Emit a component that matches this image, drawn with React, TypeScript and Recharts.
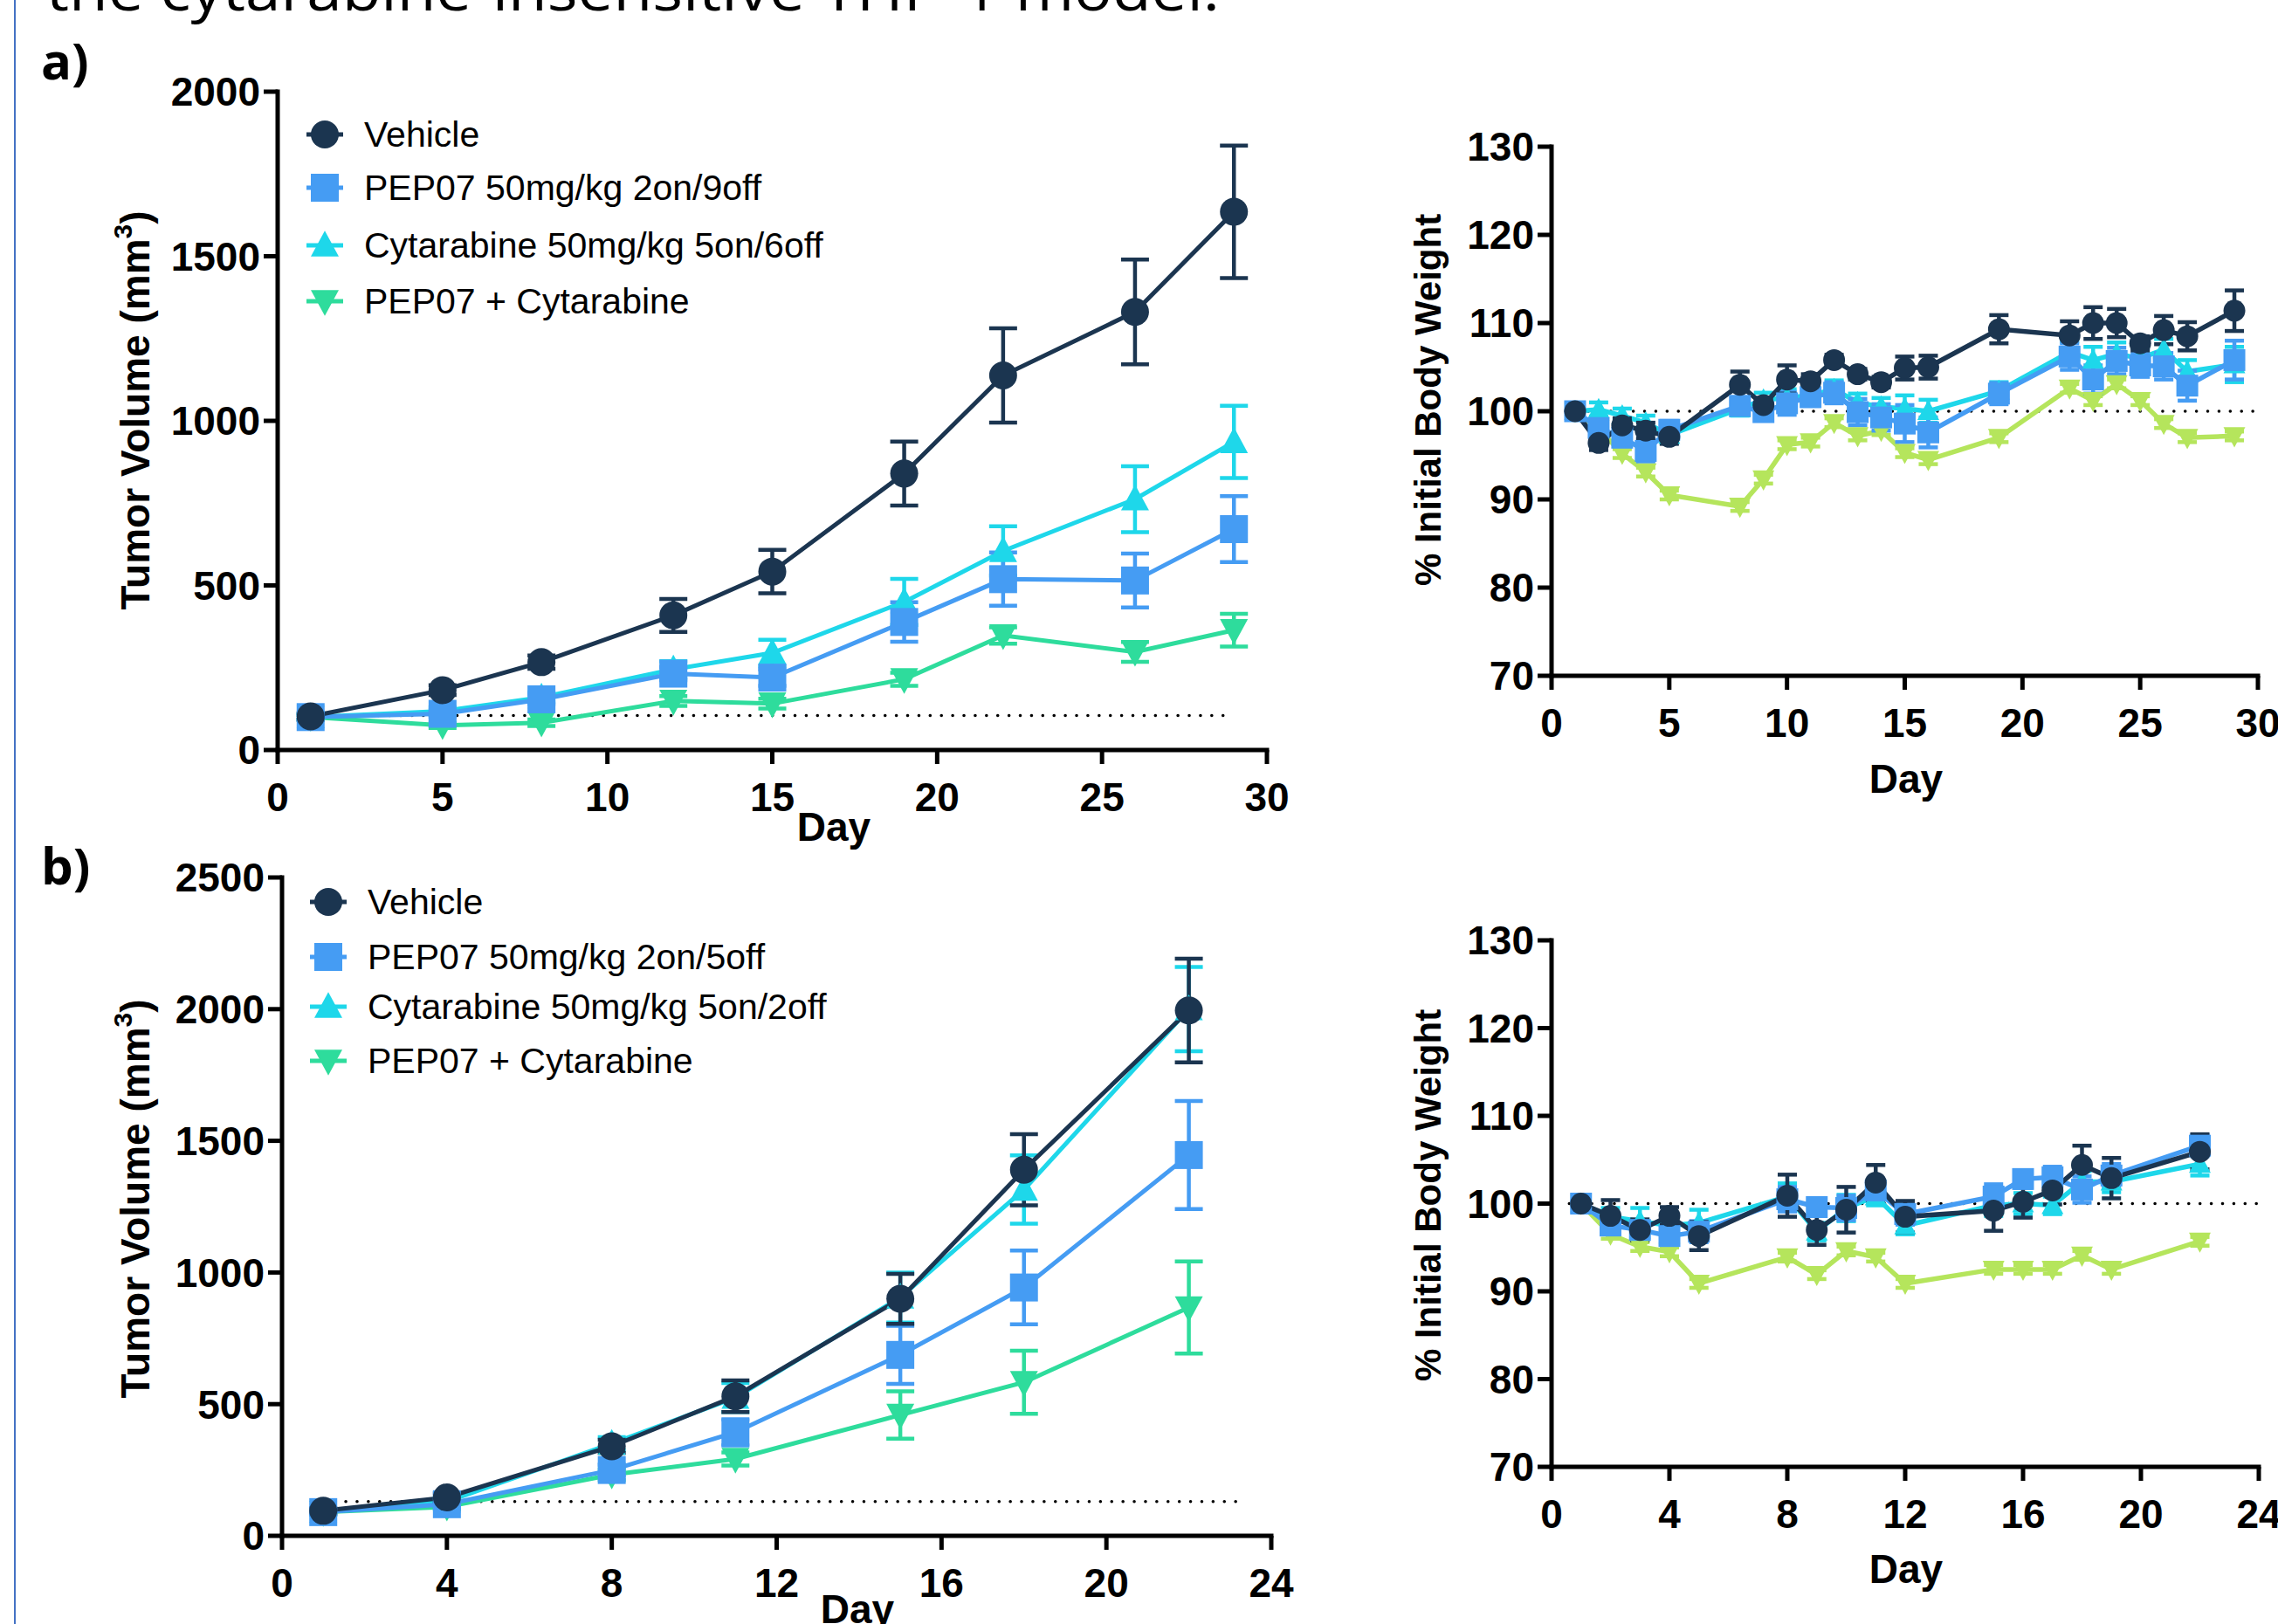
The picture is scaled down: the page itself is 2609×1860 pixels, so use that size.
import React from "react";
import { LineChart, Line, XAxis, YAxis, ErrorBar, ReferenceLine } from "recharts";

// ---- panel a, tumour volume ----
const daysA = [1, 5, 8, 12, 15, 19, 22, 26, 29];
const vehA = [102, 182, 267, 409, 542, 840, 1138, 1331, 1635];
const vehAErr = [10, 15, 20, 50, 66, 97, 143, 159, 201];
const pepA = [100, 110, 154, 232, 220, 389, 519, 515, 671];
const pepAErr = [8, 10, 15, 20, 25, 60, 81, 82, 100];
const cytA = [100, 118, 160, 245, 295, 450, 605, 762, 936];
const cytAErr = [8, 12, 15, 25, 40, 70, 75, 100, 110];
const comboA = [100, 75, 83, 149, 141, 215, 348, 298, 364];
const comboAErr = [8, 8, 10, 15, 15, 20, 25, 30, 50];

// ---- panel a, body weight ----
const daysBwA = [1, 2, 3, 4, 5, 8, 9, 10, 11, 12, 13, 14, 15, 16, 19, 22, 23, 24, 25, 26, 27, 29];
const vehBwA = [100, 96.4, 98.4, 97.8, 97.1, 103.0, 100.7, 103.6, 103.4, 105.8, 104.2, 103.3, 104.9, 105.0, 109.3, 108.6, 110.0, 110.0, 107.7, 109.2, 108.5, 111.4];
const vehBwAErr = [0.5, 0.8, 0.8, 0.9, 0.8, 1.5, 0.8, 1.6, 0.8, 0.6, 0.6, 0.6, 1.3, 1.3, 1.6, 1.6, 1.8, 1.6, 0.8, 1.6, 1.6, 2.3];
const pepBwA = [100, 98.1, 97.0, 95.5, 97.9, 100.6, 99.9, 100.9, 101.6, 102.1, 99.9, 99.3, 98.6, 97.6, 102.0, 106.2, 103.6, 105.7, 105.2, 105.1, 102.9, 105.8];
const pepBwAErr = [0.8, 1, 1, 1.2, 1, 1, 0.8, 1.3, 1, 1.2, 1.5, 1.5, 2.1, 1.7, 1.2, 1.5, 1.6, 1.5, 1.3, 1.5, 1.7, 2.2];
const cytBwA = [100, 100.2, 99.5, 98.7, 97.3, 100.3, 101.3, 101.5, 101.8, 102.5, 101.0, 100.5, 100.3, 100.0, 102.3, 106.7, 105.8, 106.5, 106.0, 107.0, 104.5, 105.3];
const cytBwAErr = [0.6, 0.8, 0.8, 0.8, 0.8, 0.8, 0.8, 1, 1, 1, 1, 1, 1.5, 1.3, 1, 1.2, 1.5, 1.3, 1.2, 1.2, 1.3, 2];
const comboBwA = [100, 98.0, 95.2, 93.1, 90.5, 89.2, 92.3, 96.2, 96.5, 98.7, 97.2, 97.8, 95.3, 94.5, 97.0, 102.6, 101.2, 103.1, 101.2, 98.6, 97.0, 97.2];
const comboBwAErr = [0.5, 0.5, 0.5, 0.5, 0.5, 0.5, 0.5, 0.5, 0.5, 0.5, 0.5, 0.5, 0.5, 0.5, 0.5, 0.5, 0.5, 0.5, 0.5, 0.5, 0.5, 0.5];

// ---- panel b, tumour volume ----
const daysB = [1, 4, 8, 11, 15, 18, 22];
const vehB = [95, 146, 340, 530, 900, 1390, 1995];
const vehBErr = [10, 15, 25, 60, 95, 135, 197];
const pepB = [90, 120, 250, 393, 687, 943, 1446];
const pepBErr = [10, 12, 20, 50, 110, 140, 205];
const cytB = [92, 130, 350, 525, 905, 1315, 2000];
const cytBErr = [10, 15, 25, 55, 95, 130, 160];
const comboB = [90, 110, 232, 292, 459, 583, 867];
const comboBErr = [8, 10, 20, 25, 90, 120, 175];

// ---- panel b, body weight ----
const daysBwB = [1, 2, 3, 4, 5, 8, 9, 10, 11, 12, 15, 16, 17, 18, 19, 22];
const vehBwB = [100, 98.6, 97.0, 98.6, 96.3, 100.9, 97.0, 99.3, 102.4, 98.5, 99.2, 100.2, 101.5, 104.4, 102.9, 105.9];
const vehBwBErr = [0.5, 1.8, 1.2, 1.0, 1.6, 2.4, 1.7, 2.6, 2.0, 1.8, 2.3, 1.8, 1.6, 2.2, 2.3, 2.0];
const pepBwB = [100, 97.5, 97.0, 96.3, 96.8, 100.5, 99.6, 99.5, 101.5, 98.8, 100.8, 102.8, 103.0, 101.6, 103.2, 106.6];
const pepBwBErr = [0.6, 1.0, 1.0, 1.0, 1.2, 1.4, 1.0, 1.4, 1.2, 1.2, 1.4, 1.0, 1.2, 1.5, 1.3, 1.2];
const cytBwB = [100, 98.5, 98.0, 97.5, 97.8, 100.8, 96.8, 99.5, 100.8, 97.5, 99.8, 100.0, 99.8, 102.5, 102.5, 104.5];
const cytBwBErr = [0.5, 1.0, 1.5, 1.2, 1.5, 1.5, 1.0, 1.5, 1.0, 1.0, 1.2, 1.2, 1.0, 1.2, 1.2, 1.3];
const comboBwB = [100, 96.5, 95.1, 94.5, 90.9, 93.9, 91.9, 94.6, 93.9, 90.9, 92.5, 92.5, 92.5, 94.1, 92.5, 95.7];
const comboBwBErr = [0.5, 0.5, 0.5, 0.5, 0.5, 0.5, 0.5, 0.5, 0.5, 0.5, 0.5, 0.5, 0.5, 0.5, 0.5, 0.5];

// ---- ticks and labels ----
const tumorTicksA = [0, 500, 1000, 1500, 2000];
const tumorTicksB = [0, 500, 1000, 1500, 2000, 2500];
const bwTicks = [70, 80, 90, 100, 110, 120, 130];
const dayTicks30 = [0, 5, 10, 15, 20, 25, 30];
const dayTicks24 = [0, 4, 8, 12, 16, 20, 24];
const legendA = ["Vehicle", "PEP07 50mg/kg 2on/9off", "Cytarabine 50mg/kg 5on/6off", "PEP07 + Cytarabine"];
const legendB = ["Vehicle", "PEP07 50mg/kg 2on/5off", "Cytarabine 50mg/kg 5on/2off", "PEP07 + Cytarabine"];

const NAVY = "#1b3550";
const BLUE = "#459cf3";
const CYAN = "#1ed7ea";
const TEAL = "#2edc9c";
const LIME = "#b5e55c";
const FONT = "'Liberation Sans', Arial, sans-serif";

type Shape = "circle" | "square" | "up" | "down";

interface Series {
  key: string;
  shape: Shape;
  color: string;
  values: number[];
  errors: number[];
}

function symbol(shape: Shape, cx: number, cy: number, size: number, color: string, key?: string) {
  const h = size / 2;
  if (shape === "circle") return <circle key={key} cx={cx} cy={cy} r={h} fill={color} />;
  if (shape === "square")
    return <rect key={key} x={cx - h} y={cy - h} width={size} height={size} fill={color} />;
  if (shape === "up")
    return (
      <polygon key={key} fill={color}
        points={`${cx},${cy - h * 1.05} ${cx + h},${cy + h * 0.8} ${cx - h},${cy + h * 0.8}`} />
    );
  return (
    <polygon key={key} fill={color}
      points={`${cx},${cy + h * 1.05} ${cx + h},${cy - h * 0.8} ${cx - h},${cy - h * 0.8}`} />
  );
}

const dotFor = (shape: Shape, color: string, size: number) => (p: any) =>
  p.cx == null || p.cy == null ? <g key={`dot-${p.index}`} /> : symbol(shape, p.cx, p.cy, size, color, `dot-${p.index}`);

function makeSeries(
  veh: number[], vehErr: number[], pep: number[], pepErr: number[],
  cyt: number[], cytErr: number[], combo: number[], comboErr: number[], comboColor: string
): Series[] {
  return [
    { key: "veh", shape: "circle", color: NAVY, values: veh, errors: vehErr },
    { key: "pep", shape: "square", color: BLUE, values: pep, errors: pepErr },
    { key: "cyt", shape: "up", color: CYAN, values: cyt, errors: cytErr },
    { key: "combo", shape: "down", color: comboColor, values: combo, errors: comboErr },
  ];
}

interface PanelProps {
  box: { left: number; top: number; width: number; height: number };
  plot: { left: number; top: number; right: number; bottom: number };
  days: number[];
  series: Series[];
  xMax: number;
  xTicks: number[];
  yTicks: number[];
  baseline: { y: number; from: number; to: number };
  dotSize: number;
  lineWidth: number;
  cap: number;
  yTitle: React.ReactNode;
  yTitleSize: number;
  yTitleAt: [number, number];
  dayAt: [number, number];
}

const Y_AXIS_W = 200;
const X_AXIS_H = 80;
const axisStyle = { stroke: "#000", strokeWidth: 5, strokeLinecap: "square" as const };
const tickStyle = { fill: "#000", fontSize: 46, fontWeight: 700, fontFamily: FONT };

function Panel(props: PanelProps) {
  const { box, plot, days, series } = props;
  const data = days.map((d, i) => {
    const row: Record<string, number> = { day: d };
    series.forEach((s) => {
      row[s.key] = s.values[i];
      row[s.key + "Err"] = s.errors[i];
    });
    return row;
  });
  const margin = {
    top: plot.top - box.top,
    left: plot.left - box.left - Y_AXIS_W,
    right: box.left + box.width - plot.right,
    bottom: box.height - (plot.bottom - box.top) - X_AXIS_H,
  };
  const [tx, ty] = [props.yTitleAt[0] - box.left, props.yTitleAt[1] - box.top];
  const [dx, dy] = [props.dayAt[0] - box.left, props.dayAt[1] - box.top];
  const yDomain = [props.yTicks[0], props.yTicks[props.yTicks.length - 1]];

  return (
    <div style={{ position: "absolute", left: box.left, top: box.top }}>
      <LineChart width={box.width} height={box.height} data={data} margin={margin}>
        <XAxis
          dataKey="day" type="number" domain={[0, props.xMax]} ticks={props.xTicks} interval={0}
          axisLine={axisStyle} tickLine={{ stroke: "#000", strokeWidth: 5 }} tickSize={16} tickMargin={21}
          tick={tickStyle} height={X_AXIS_H}
          label={{
            content: () => (
              <text x={dx} y={dy} textAnchor="middle" fontSize={46} fontWeight={700} fontFamily={FONT} fill="#000">
                Day
              </text>
            ),
          }}
        />
        <YAxis
          type="number" domain={yDomain} ticks={props.yTicks} interval={0}
          axisLine={axisStyle} tickLine={{ stroke: "#000", strokeWidth: 5 }} tickSize={16} tickMargin={4}
          tick={tickStyle} width={Y_AXIS_W}
          label={{
            content: () => (
              <text x={tx} y={ty} transform={`rotate(-90, ${tx}, ${ty})`} textAnchor="middle"
                dominantBaseline="central" fontSize={props.yTitleSize} fontWeight={700} fontFamily={FONT} fill="#000">
                {props.yTitle}
              </text>
            ),
          }}
        />
        <ReferenceLine
          segment={[{ x: props.baseline.from, y: props.baseline.y }, { x: props.baseline.to, y: props.baseline.y }]}
          stroke="#000" strokeWidth={3.5} strokeDasharray="0.1 12.8" strokeLinecap="round"
        />
        {[...series].reverse().map((s) => (
          <Line
            key={s.key} dataKey={s.key} stroke={s.color} strokeWidth={props.lineWidth}
            dot={dotFor(s.shape, s.color, props.dotSize)} activeDot={false} isAnimationActive={false}
          >
            <ErrorBar dataKey={s.key + "Err"} width={props.cap} stroke={s.color} strokeWidth={4.5}
              direction="y" isAnimationActive={false} />
          </Line>
        ))}
      </LineChart>
    </div>
  );
}

function Legend({ labels, colors, x, textX, ys }: { labels: string[]; colors: string[]; x: number; textX: number; ys: number[] }) {
  const shapes: Shape[] = ["circle", "square", "up", "down"];
  return (
    <>
      {labels.map((label, i) => (
        <div key={label} style={{ position: "absolute", left: x - 24, top: ys[i] - 24, height: 48, display: "flex", alignItems: "center" }}>
          <svg width={48} height={48}>
            <line x1={3} x2={45} y1={24} y2={24} stroke={colors[i]} strokeWidth={5} />
            {symbol(shapes[i], 24, 24, 32, colors[i])}
          </svg>
          <span style={{ marginLeft: textX - x - 24, fontSize: 41, fontFamily: FONT, color: "#000", whiteSpace: "nowrap" }}>
            {label}
          </span>
        </div>
      ))}
    </>
  );
}

const tumorTitle = (
  <>
    Tumor Volume (mm<tspan dy={-15} fontSize={30}>3</tspan>
    <tspan dy={15}>)</tspan>
  </>
);

export default function App() {
  const seriesTumorA = makeSeries(vehA, vehAErr, pepA, pepAErr, cytA, cytAErr, comboA, comboAErr, TEAL);
  const seriesBwA = makeSeries(vehBwA, vehBwAErr, pepBwA, pepBwAErr, cytBwA, cytBwAErr, comboBwA, comboBwAErr, LIME);
  const seriesTumorB = makeSeries(vehB, vehBErr, pepB, pepBErr, cytB, cytBErr, comboB, comboBErr, TEAL);
  const seriesBwB = makeSeries(vehBwB, vehBwBErr, pepBwB, pepBwBErr, cytBwB, cytBwBErr, comboBwB, comboBwBErr, LIME);
  const legendColors = [NAVY, BLUE, CYAN, TEAL];

  return (
    <div style={{ position: "absolute", left: 0, top: 0, width: 2609, height: 1860, background: "#fff", overflow: "hidden" }}>
      <div style={{ position: "absolute", left: 16, top: 0, width: 2, height: 1860, background: "#4472c4" }} />
      <svg width={2609} height={1860} style={{ position: "absolute", left: 0, top: 0 }}>
        <text x={53} y={12} fontSize={66} fontFamily="'Open Sans', sans-serif" textLength={1344} lengthAdjust="spacingAndGlyphs" fill="#000">
          the cytarabine-insensitive THP-1 model.
        </text>
        <text x={47} y={91} fontSize={58} fontWeight={700} fontFamily="'Open Sans', sans-serif" fill="#000">a)</text>
        <text x={47} y={1013} fontSize={58} fontWeight={700} fontFamily="'Open Sans', sans-serif" fill="#000">b)</text>
      </svg>

      <Panel
        box={{ left: 0, top: 0, width: 1500, height: 1000 }}
        plot={{ left: 318, top: 105, right: 1451, bottom: 859 }}
        days={daysA} series={seriesTumorA} xMax={30} xTicks={dayTicks30} yTicks={tumorTicksA}
        baseline={{ y: 105, from: 1, to: 29 }} dotSize={32} lineWidth={5} cap={16}
        yTitle={tumorTitle} yTitleSize={46} yTitleAt={[155, 470]} dayAt={[955, 963]}
      />
      <Panel
        box={{ left: 1500, top: 0, width: 1109, height: 1000 }}
        plot={{ left: 1777, top: 168, right: 2586, bottom: 774 }}
        days={daysBwA} series={seriesBwA} xMax={30} xTicks={dayTicks30} yTicks={bwTicks}
        baseline={{ y: 100, from: 0.6, to: 30 }} dotSize={25} lineWidth={5.5} cap={11}
        yTitle="% Initial Body Weight" yTitleSize={42} yTitleAt={[1635, 458]} dayAt={[2183, 908]}
      />
      <Panel
        box={{ left: 0, top: 960, width: 1500, height: 900 }}
        plot={{ left: 323, top: 1005, right: 1456, bottom: 1759 }}
        days={daysB} series={seriesTumorB} xMax={24} xTicks={dayTicks24} yTicks={tumorTicksB}
        baseline={{ y: 130, from: 1, to: 23.3 }} dotSize={32} lineWidth={5} cap={16}
        yTitle={tumorTitle} yTitleSize={46} yTitleAt={[155, 1373]} dayAt={[982, 1859]}
      />
      <Panel
        box={{ left: 1500, top: 960, width: 1109, height: 900 }}
        plot={{ left: 1777, top: 1077, right: 2587, bottom: 1680 }}
        days={daysBwB} series={seriesBwB} xMax={24} xTicks={dayTicks24} yTicks={bwTicks}
        baseline={{ y: 100, from: 0.6, to: 24 }} dotSize={25} lineWidth={5.5} cap={11}
        yTitle="% Initial Body Weight" yTitleSize={42} yTitleAt={[1635, 1369]} dayAt={[2183, 1813]}
      />

      <Legend labels={legendA} colors={legendColors} x={372} textX={417} ys={[154, 215, 281, 345]} />
      <Legend labels={legendB} colors={legendColors} x={376} textX={421} ys={[1033, 1096, 1153, 1215]} />
    </div>
  );
}
